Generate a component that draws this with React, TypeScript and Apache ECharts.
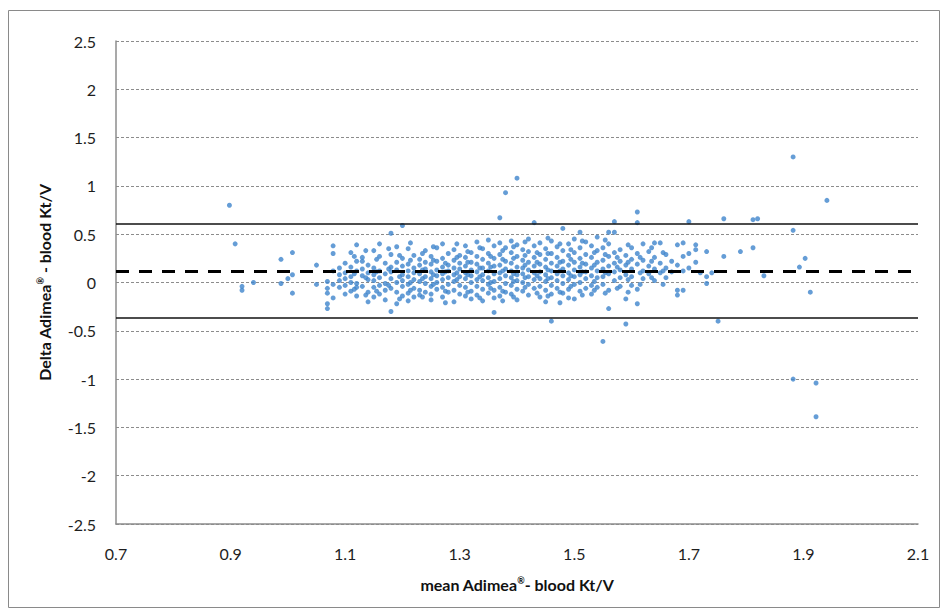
import React, { useEffect, useRef } from "react";
import * as echarts from "echarts";

// Bland-Altman limits (Kt/V difference)
const meanDifference = 0.123;
const upperLimit = 0.61;
const lowerLimit = -0.365;

const xTicks = { min: 0.7, max: 2.1, step: 0.2 };
const yTicks = { min: -2.5, max: 2.5, step: 0.5 };

// Each column: [mean Kt/V, list of differences]
const leftOutliers: [number, number[]][] = [
  [0.898, [0.8]],
  [0.908, [0.4]],
  [0.92, [-0.04, -0.08]],
  [0.94, [0.0]],
  [0.988, [0.24, -0.01]],
  [1.0, [0.04]],
  [1.008, [0.31, 0.08, -0.11]],
  [1.05, [0.18, -0.02]],
];

const cloudColumns: [number, number[]][] = [
  [1.069, [0.01, -0.06, -0.11, -0.22, -0.27]],
  [1.079, [0.38, 0.3, 0.12, -0.02, -0.16]],
  [1.09, [0.08, 0.02, -0.05, 0.15]],
  [1.1, [0.2, 0.1, 0.04, -0.03, -0.12]],
  [1.11, [0.31, 0.16, 0.06, 0.0, -0.09]],
  [1.12, [0.39, 0.22, 0.12, -0.01, -0.05, -0.14]],
  [1.13, [0.26, 0.22, 0.14, 0.07, -0.04]],
  [1.14, [0.18, 0.1, 0.03, -0.1, -0.2]],
  [1.15, [0.33, 0.15, 0.08, 0.02, -0.05, -0.15]],
  [1.16, [0.4, 0.27, 0.12, 0.05, -0.03, -0.12]],
  [1.17, [0.2, 0.09, -0.01, -0.08, -0.18]],
  [1.18, [0.51, 0.29, 0.16, 0.11, 0.04, -0.06, -0.3]],
  [1.19, [0.37, 0.21, 0.13, 0.0, -0.1, -0.22]],
  [1.2, [0.59, 0.25, 0.17, 0.08, 0.02, -0.04, -0.14]],
  [1.21, [0.35, 0.19, 0.12, 0.06, -0.02, -0.11, -0.19]],
  [1.22, [0.28, 0.15, 0.1, 0.03, -0.06, -0.15]],
  [1.23, [0.24, 0.18, 0.09, 0.01, -0.08, -0.13]],
  [1.24, [0.33, 0.21, 0.14, 0.06, -0.01, -0.1]],
  [1.25, [0.27, 0.19, 0.11, 0.04, -0.04, -0.12, -0.18]],
  [1.26, [0.36, 0.22, 0.13, 0.07, 0.0, -0.07]],
  [1.27, [0.4, 0.25, 0.16, 0.09, 0.03, -0.05, -0.15]],
  [1.28, [0.3, 0.18, 0.12, 0.05, -0.02, -0.1]],
  [1.29, [0.34, 0.23, 0.15, 0.08, 0.01, -0.08, -0.2]],
  [1.3, [0.28, 0.2, 0.14, 0.06, -0.03, -0.12]],
  [1.31, [0.38, 0.26, 0.17, 0.1, 0.04, -0.05, -0.14]],
  [1.32, [0.31, 0.21, 0.13, 0.07, 0.0, -0.09, -0.17]],
  [1.33, [0.42, 0.27, 0.19, 0.11, 0.03, -0.04, -0.13]],
  [1.34, [0.35, 0.24, 0.15, 0.08, 0.02, -0.07, -0.19]],
  [1.35, [0.44, 0.3, 0.2, 0.12, 0.05, -0.02, -0.11]],
  [1.36, [0.38, 0.25, 0.17, 0.09, 0.01, -0.08, -0.16, -0.31]],
  [1.37, [0.67, 0.41, 0.29, 0.18, 0.1, 0.04, -0.05, -0.14]],
  [1.38, [0.93, 0.36, 0.22, 0.14, 0.07, -0.01, -0.1]],
  [1.39, [0.43, 0.31, 0.2, 0.12, 0.05, -0.03, -0.12]],
  [1.4, [1.08, 0.39, 0.27, 0.16, 0.08, 0.02, -0.07, -0.18]],
  [1.41, [0.34, 0.23, 0.15, 0.09, 0.0, -0.09]],
  [1.42, [0.45, 0.32, 0.21, 0.13, 0.06, -0.02, -0.13]],
  [1.43, [0.62, 0.38, 0.26, 0.17, 0.1, 0.03, -0.06]],
  [1.44, [0.41, 0.29, 0.19, 0.11, 0.04, -0.04, -0.15]],
  [1.45, [0.35, 0.24, 0.16, 0.08, 0.01, -0.08, -0.2]],
  [1.46, [0.43, 0.3, 0.2, 0.12, 0.05, -0.03, -0.12, -0.4]],
  [1.47, [0.37, 0.26, 0.17, 0.09, 0.02, -0.06]],
  [1.48, [0.56, 0.33, 0.22, 0.14, 0.07, -0.01, -0.11]],
  [1.49, [0.4, 0.28, 0.18, 0.1, 0.03, -0.07, -0.16]],
  [1.5, [0.45, 0.31, 0.21, 0.13, 0.06, -0.02, -0.17]],
  [1.51, [0.52, 0.36, 0.25, 0.16, 0.08, 0.0, -0.09]],
  [1.52, [0.42, 0.29, 0.19, 0.11, 0.04, -0.06]],
  [1.53, [0.38, 0.26, 0.15, 0.07, -0.03, -0.12]],
  [1.54, [0.47, 0.33, 0.21, 0.12, 0.05, -0.05]],
  [1.55, [0.36, 0.23, 0.14, 0.06, -0.02, -0.61]],
  [1.56, [0.52, 0.4, 0.27, 0.17, 0.09, -0.08, -0.27]],
  [1.57, [0.63, 0.52, 0.31, 0.2, 0.11, 0.02]],
  [1.58, [0.34, 0.22, 0.13, 0.05, -0.04]],
  [1.59, [0.28, 0.18, 0.08, -0.17, -0.43]],
  [1.6, [0.36, 0.24, 0.14, 0.06, -0.03]],
  [1.61, [0.73, 0.62, 0.3, 0.19, -0.07, -0.22]],
  [1.62, [0.4, 0.23, 0.12, 0.04]],
  [1.63, [0.32, 0.17, 0.09]],
  [1.64, [0.41, 0.26, 0.14, 0.02]],
  [1.65, [0.41, 0.2, 0.1]],
  [1.66, [0.29, 0.15, 0.05]],
  [1.67, [0.22, 0.11]],
  [1.68, [0.39, 0.18, -0.08, -0.13]],
  [1.69, [0.41, 0.27, 0.12, -0.08]],
  [1.7, [0.63, 0.3, 0.15]],
];

// In-between columns of the dense cloud
const cloudInBetween: [number, number[]][] = [
  [1.116, [0.27, 0.09, -0.07]],
  [1.136, [0.33, 0.05, -0.13]],
  [1.155, [0.24, 0.11, -0.09]],
  [1.176, [0.35, 0.14, -0.03]],
  [1.195, [0.28, 0.06, -0.17]],
  [1.214, [0.41, 0.23, 0.0, -0.08]],
  [1.235, [0.3, 0.13, 0.04, -0.15]],
  [1.254, [0.37, 0.23, 0.08, -0.02]],
  [1.275, [0.2, 0.11, -0.09, -0.21]],
  [1.295, [0.4, 0.26, 0.1, 0.03]],
  [1.314, [0.32, 0.21, 0.08, -0.1]],
  [1.335, [0.36, 0.15, 0.06, -0.16]],
  [1.354, [0.27, 0.16, 0.0, -0.06]],
  [1.375, [0.33, 0.24, 0.12, -0.09, -0.19]],
  [1.394, [0.37, 0.25, 0.09, 0.01, -0.15]],
  [1.414, [0.42, 0.28, 0.18, 0.05, -0.05]],
  [1.435, [0.31, 0.21, 0.07, -0.11]],
  [1.454, [0.46, 0.3, 0.13, 0.04, -0.14]],
  [1.475, [0.4, 0.21, 0.12, -0.1, -0.21]],
  [1.494, [0.34, 0.24, 0.07, -0.04]],
  [1.514, [0.43, 0.2, 0.11, -0.13]],
  [1.535, [0.31, 0.18, 0.01, -0.08]],
  [1.554, [0.44, 0.29, 0.1, -0.11]],
  [1.575, [0.26, 0.16, -0.06]],
  [1.594, [0.39, 0.21, 0.03, -0.1]],
  [1.615, [0.26, 0.1, -0.02]],
  [1.635, [0.36, 0.22, 0.05]],
  [1.655, [0.31, 0.12, -0.02]],
];

const rightOutliers: [number, number[]][] = [
  [1.712, [0.39, 0.34, 0.21]],
  [1.72, [0.1]],
  [1.731, [0.32, 0.06, -0.01]],
  [1.74, [0.1]],
  [1.751, [-0.4]],
  [1.761, [0.66, 0.27]],
  [1.79, [0.32]],
  [1.812, [0.65, 0.36]],
  [1.82, [0.66]],
  [1.831, [0.07]],
  [1.882, [1.3, 0.54, -1.0]],
  [1.893, [0.16]],
  [1.903, [0.25]],
  [1.912, [-0.1]],
  [1.922, [-1.04, -1.39]],
  [1.941, [0.85]],
];

const expand = (cols: [number, number[]][]) =>
  cols.flatMap(([x, ys]) => ys.map((y) => [x, y]));

const App: React.FC = () => {
  const ref = useRef<HTMLDivElement>(null);

  useEffect(() => {
    if (!ref.current) return;
    const chart = echarts.init(ref.current, undefined, { renderer: "svg" });
    const points = [
      ...expand(leftOutliers),
      ...expand(cloudColumns),
      ...expand(cloudInBetween),
      ...expand(rightOutliers),
    ];
    const font = "Lato, 'Open Sans', 'Liberation Sans', sans-serif";
    const nameRich = {
      a: { fontFamily: font, fontWeight: "bold", fontSize: 16, color: "#111" },
      s: {
        fontFamily: font,
        fontWeight: "bold",
        fontSize: 9,
        color: "#111",
        verticalAlign: "top",
        padding: [0, 0, 8, 0],
      },
    };
    chart.setOption({
      animation: false,
      backgroundColor: "#ffffff",
      graphic: [
        {
          type: "rect",
          shape: { x: 8.5, y: 10.5, width: 931, height: 597 },
          style: { fill: "none", stroke: "#8a8a8a", lineWidth: 1 },
          silent: true,
        },
      ],
      grid: { left: 116, right: 26, top: 41, bottom: 89 },
      xAxis: {
        type: "value",
        min: xTicks.min,
        max: xTicks.max,
        interval: xTicks.step,
        name: "{a|mean Adimea}{s|®}{a|- blood Kt/V}",
        nameLocation: "middle",
        nameGap: 52,
        nameTextStyle: { rich: nameRich },
        axisLine: { show: true, onZero: false, lineStyle: { color: "#8c8c8c", width: 1.5 } },
        axisTick: { show: false },
        splitLine: { show: false },
        axisLabel: {
          margin: 21,
          fontSize: 16,
          fontFamily: font,
          color: "#1e1e1e",
          formatter: (v: number) => v.toFixed(1),
        },
      },
      yAxis: {
        type: "value",
        min: yTicks.min,
        max: yTicks.max,
        interval: yTicks.step,
        name: "{a|Delta Adimea}{s|®}{a| - blood Kt/V}",
        nameLocation: "middle",
        nameRotate: 90,
        nameGap: 63,
        nameTextStyle: { rich: nameRich },
        axisLine: { show: true, onZero: false, lineStyle: { color: "#8c8c8c", width: 1.5 } },
        axisTick: { show: false },
        splitLine: {
          show: true,
          lineStyle: { color: "#8c8c8c", type: [3, 2], width: 1 },
        },
        axisLabel: {
          margin: 20,
          fontSize: 16,
          fontFamily: font,
          color: "#1e1e1e",
          formatter: (v: number) => String(Math.round(v * 10) / 10),
        },
      },
      series: [
        {
          type: "scatter",
          data: points,
          symbolSize: 5,
          itemStyle: { color: "#3f84cc" },
          z: 3,
          markLine: {
            silent: true,
            symbol: "none",
            label: { show: false },
            z: 4,
            data: [
              { yAxis: upperLimit, lineStyle: { color: "#111", width: 1.5, type: "solid" } },
              { yAxis: lowerLimit, lineStyle: { color: "#111", width: 1.5, type: "solid" } },
              { yAxis: meanDifference, lineStyle: { color: "#000", width: 3, type: [13, 10] } },
            ],
          },
        },
      ],
    });
    return () => chart.dispose();
  }, []);

  return (
    <div
      ref={ref}
      style={{ position: "absolute", left: 0, top: 0, width: 944, height: 613 }}
    />
  );
};

export default App;
